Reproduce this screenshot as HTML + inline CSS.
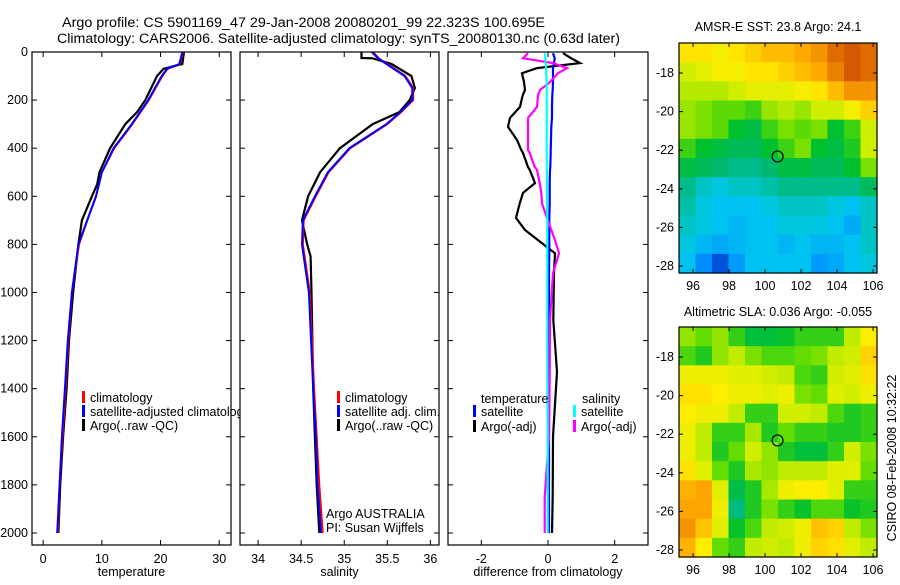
<!DOCTYPE html>
<html><head><meta charset="utf-8"><style>
html,body{margin:0;padding:0;background:#fff}
svg text{font-family:"Liberation Sans",sans-serif;fill:#000}
</style></head><body>
<svg id="fig" width="900" height="580" viewBox="0 0 900 580" xmlns="http://www.w3.org/2000/svg">
<rect width="900" height="580" fill="#fff"/>
<text x="62" y="27" font-size="14.2" textLength="483" lengthAdjust="spacingAndGlyphs">Argo profile: CS 5901169_47 29-Jan-2008 20080201_99 22.323S 100.695E</text>
<text x="57" y="43" font-size="14.2" textLength="563" lengthAdjust="spacingAndGlyphs">Climatology: CARS2006. Satellite-adjusted climatology: synTS_20080130.nc (0.63d later)</text>
<text x="778" y="31" font-size="12.5" text-anchor="middle">AMSR-E SST: 23.8 Argo: 24.1</text>
<text x="778" y="316" font-size="12.5" text-anchor="middle">Altimetric SLA: 0.036 Argo: -0.055</text>
<text transform="translate(896,458) rotate(-90)" font-size="12.5" text-anchor="middle">CSIRO 08-Feb-2008 10:32:22</text>
<g id="plots"></g>
</svg>
<script>
// ---- profile data (depth in dbar) ----
const tDepth = [0,50,70,100,200,250,300,400,500,550,600,700,800,1000,1200,1400,1600,1800,2000];
const tArgo  = [24.0,23.7,20.5,19.4,17.4,16.0,14.0,11.4,9.6,9.2,8.3,6.6,6.0,5.1,4.4,4.0,3.4,2.9,2.6];
const tClim  = [23.8,23.3,21.2,20.3,18.0,16.6,15.2,12.1,10.0,9.5,9.0,7.5,6.1,4.9,4.3,3.8,3.3,2.8,2.5];
const tSat   = [23.7,23.2,21.1,20.2,17.9,16.5,15.1,12.0,10.0,9.5,9.0,7.5,6.0,4.9,4.2,3.7,3.2,2.8,2.4];
const sDepth = [0,25,26,50,100,150,200,250,300,400,500,600,700,800,850,1000,1400,1600,1800,2000];
const sArgo  = [35.20,35.20,35.33,35.55,35.78,35.82,35.76,35.64,35.33,34.95,34.72,34.58,34.51,34.57,34.61,34.62,34.64,34.66,34.68,34.71];
const sClim  = [35.33,35.40,35.40,35.50,35.71,35.80,35.80,35.66,35.50,35.07,34.82,34.67,34.53,34.52,34.54,34.60,34.65,34.68,34.71,34.75];
const sSat   = [35.32,35.39,35.39,35.49,35.70,35.79,35.79,35.65,35.49,35.06,34.81,34.66,34.52,34.51,34.53,34.59,34.64,34.67,34.69,34.73];
const dDepth = [5,26,46,67,88,125,158,180,228,274,311,366,408,420,478,490,545,586,630,690,740,782,837,920,1115,1330,1600,1850,2000];
const dTArgo = [0.45,0.7,0.96,-0.33,-0.78,-0.72,-0.69,-0.76,-0.84,-1.14,-1.2,-0.93,-0.8,-0.75,-0.6,-0.55,-0.39,-0.75,-0.85,-0.96,-0.69,-0.3,0.21,0.18,0.16,0.27,0.15,0.14,0.12];
const dSArgo = [-0.6,-0.75,0.15,0.57,0.3,0.06,-0.24,-0.3,-0.33,-0.6,-0.6,-0.6,-0.6,-0.55,-0.4,-0.33,-0.25,-0.2,-0.18,-0.03,0.1,0.21,0.33,0.15,0.06,0.05,0.03,-0.1,-0.1];
const dTSat  = [0.15,0.2,0.18,0.15,0.15,0.15,0.14,0.13,0.12,0.12,0.1,0.09,0.08,0.08,0.07,0.06,0.05,0.05,0.05,0.04,0.04,0.04,0.04,0.03,0.03,0.03,0.03,0.03,0.03];
const dSSat  = [-0.09,-0.08,-0.07,-0.06,-0.05,-0.04,-0.04,-0.04,-0.04,-0.04,-0.04,-0.04,-0.04,-0.04,-0.03,-0.03,-0.03,-0.03,-0.03,-0.02,-0.02,-0.02,-0.02,-0.02,-0.02,-0.02,-0.01,-0.01,-0.01];
const depthTicks = [0,200,400,600,800,1000,1200,1400,1600,1800,2000];
const tTicks = [0,10,20,30];
const sTicks = [34,34.5,35,35.5,36];
const sTickLabels = ["34","34.5","35","35.5","36"];
const dTicks = [-2,0,2];
// ---- map data ----
const lonTicks = [96,98,100,102,104,106];
const latTicks = [-18,-20,-22,-24,-26,-28];
const sstGrid = [
[24.6,24.6,24.5,24.6,24.7,24.8,24.8,24.9,25.0,25.2,25.3,25.2],
[24.3,24.4,24.5,24.5,24.6,24.6,24.7,24.8,24.9,25.1,25.3,25.2],
[24.2,24.2,24.2,24.3,24.4,24.4,24.4,24.5,24.6,24.8,25.0,25.0],
[24.1,24.0,23.9,23.9,23.8,24.1,24.2,24.1,24.3,24.3,24.5,24.7],
[24.1,24.0,23.9,23.6,23.5,23.8,24.0,23.9,24.0,23.6,23.8,24.3],
[23.8,23.6,23.5,23.4,23.4,23.6,23.8,24.0,23.6,23.5,23.7,24.3],
[23.5,23.4,23.3,23.2,23.2,23.3,23.5,23.5,23.4,23.4,23.6,24.0],
[23.2,23.0,22.9,23.0,23.0,23.1,23.2,23.2,23.2,23.2,23.2,23.4],
[23.1,22.9,22.8,22.8,22.8,22.9,23.0,23.0,23.0,22.9,22.8,23.0],
[23.0,22.9,22.8,22.7,22.8,22.8,22.9,22.9,22.9,22.8,22.6,23.0],
[22.9,22.7,22.6,22.7,22.8,22.8,22.7,22.8,22.7,22.7,22.8,23.0],
[22.8,22.4,22.1,22.5,22.8,22.8,22.8,22.8,22.5,22.6,22.8,22.9]];
const slaGrid = [
[-0.02,-0.04,-0.02,-0.06,-0.09,-0.09,-0.08,-0.06,-0.06,-0.06,0.0,0.04],
[-0.05,-0.07,-0.02,0.0,-0.03,-0.05,-0.05,-0.04,-0.03,0.0,0.01,0.06],
[0.03,0.03,0.03,0.02,0.02,0.01,0.0,-0.05,-0.06,0.01,0.02,0.05],
[0.05,0.05,0.04,0.03,0.03,0.02,0.03,-0.03,-0.04,0.02,0.01,0.03],
[0.04,0.03,0.03,0.0,-0.06,-0.06,0.01,0.01,0.0,-0.05,-0.07,-0.06],
[0.03,0.0,-0.06,-0.06,-0.01,-0.07,-0.04,-0.06,-0.06,-0.07,-0.07,-0.06],
[0.03,0.0,-0.07,-0.04,0.01,-0.02,-0.07,-0.09,-0.09,-0.06,0.01,-0.03],
[0.05,0.02,-0.04,-0.07,-0.01,-0.02,0.0,0.0,0.0,0.02,0.02,-0.04],
[0.08,0.09,0.02,-0.1,-0.07,-0.01,0.03,0.04,0.04,0.02,-0.06,-0.06],
[0.09,0.09,0.03,-0.13,-0.07,-0.03,-0.06,-0.08,-0.05,-0.05,-0.08,-0.07],
[0.1,0.07,0.02,-0.08,-0.05,0.0,0.01,0.03,0.07,0.06,0.0,-0.03],
[0.08,0.04,-0.04,-0.06,0.0,0.01,0.0,0.03,0.06,0.05,0.02,0.0]];
const argoLon = 100.695, argoLat = -22.323;

const NS='http://www.w3.org/2000/svg';
const root=document.getElementById('plots');
function mk(tag,attrs,parent){const e=document.createElementNS(NS,tag);for(const k in attrs)e.setAttribute(k,attrs[k]);(parent||root).appendChild(e);return e;}
function txt(s,x,y,size,anchor,parent){const t=mk('text',{x:x,y:y,'font-size':size,'text-anchor':anchor||'start'},parent);t.textContent=s;return t;}
function lin(d0,d1,r0,r1){return v=>r0+(v-d0)/(d1-d0)*(r1-r0);}

const Y=lin(0,2050,52,545);
const panels=[
 {x0:32,x1:231,dom:[-1.9,32],ticks:tTicks,labels:tTicks.map(String),label:'temperature',name:'temperature'},
 {x0:240,x1:439,dom:[33.79,36.1],ticks:sTicks,labels:sTickLabels,label:'salinity',name:'salinity'},
 {x0:448,x1:648,dom:[-3,3],ticks:dTicks,labels:dTicks.map(String),label:'difference from climatology',name:'difference'}];
panels.forEach((p,i)=>{
  p.X=lin(p.dom[0],p.dom[1],p.x0,p.x1);
  const g=mk('g',{});
  
  
  p.g=g;
  mk('rect',{x:p.x0,y:52,width:p.x1-p.x0,height:493,fill:'#fff',stroke:'none'},g);
});
function line(p,xs,ds,color,w,name){
  const pts=xs.map((v,i)=>p.X(v).toFixed(1)+','+Y(ds[i]).toFixed(1)).join(' ');
  const l=mk('polyline',{points:pts,fill:'none',stroke:color,'stroke-width':w,'stroke-linejoin':'miter'},p.g);
  
  
}
const P1=panels[0],P2=panels[1],P3=panels[2];
line(P1,tArgo,tDepth,'#000',2.2,'temp-argo-line');
line(P1,tClim,tDepth,'#f00',2,'temp-clim-line');
line(P1,tSat,tDepth,'#00f',2,'temp-sat-line');
line(P2,sArgo,sDepth,'#000',2.2,'sal-argo-line');
line(P2,sClim,sDepth,'#f00',2,'sal-clim-line');
line(P2,sSat,sDepth,'#00f',2,'sal-sat-line');
line(P3,dTArgo,dDepth,'#000',2.2,'diff-temp-argo-line');
line(P3,dTSat,dDepth,'#00f',2.2,'diff-temp-sat-line');
line(P3,dSArgo,dDepth,'#f0f',2.2,'diff-sal-argo-line');
line(P3,dSSat,dDepth,'#0ff',2.2,'diff-sal-sat-line');

function legend(g,x,y,color,label,name){
  mk('rect',{x:x,y:y-11,width:3,height:12,fill:color},g);
  const t=txt(label,x+8,y,12.5,'start',g);
  
  
}
legend(P1.g,82,402,'#f00','climatology','legend-climatology');
legend(P1.g,82,416,'#00f','satellite-adjusted climatology','legend-sat-adj');
legend(P1.g,82,430,'#000','Argo(..raw -QC)','legend-argo');
root.appendChild(P2.g);root.appendChild(P3.g);
legend(P2.g,337,402,'#f00','climatology','legend2-climatology');
legend(P2.g,337,416,'#00f','satellite adj. clim.','legend2-sat-adj');
legend(P2.g,337,430,'#000','Argo(..raw -QC)','legend2-argo');
txt('Argo AUSTRALIA',326,518,12.5,'start',P2.g);
txt('PI: Susan Wijffels',326,532,12.5,'start',P2.g);
txt('temperature',481,403,12.5,'start',P3.g);
legend(P3.g,473,416,'#00f','satellite','legend3-temp-sat');
legend(P3.g,473,431,'#000','Argo(-adj)','legend3-temp-argo');
txt('salinity',582,403,12.5,'start',P3.g);
legend(P3.g,573,416,'#0ff','satellite','legend3-sal-sat');
legend(P3.g,573,431,'#f0f','Argo(-adj)','legend3-sal-argo');

panels.forEach((p,i)=>{
  const g=p.g;
  mk('rect',{x:p.x0,y:52,width:p.x1-p.x0,height:493,fill:'none',stroke:'#000','stroke-width':1.2},g);
  p.ticks.forEach((v,k)=>{
    const x=p.X(v);
    mk('line',{x1:x,y1:545,x2:x,y2:540,stroke:'#000'},g);
    mk('line',{x1:x,y1:52,x2:x,y2:57,stroke:'#000'},g);
    txt(p.labels[k],x,563,12.5,'middle',g);
  });
  const xl=txt(p.label,(p.x0+p.x1)/2,576,12.5,'middle',g);
  
  
  depthTicks.forEach(d=>{
    mk('line',{x1:p.x0,y1:Y(d),x2:p.x0+5,y2:Y(d),stroke:'#000'},g);
    mk('line',{x1:p.x1,y1:Y(d),x2:p.x1-5,y2:Y(d),stroke:'#000'},g);
    if(i===0) txt(String(d),28,Y(d)+4,12.5,'end',g);
  });
});

// ---- maps ----
const stops=[[0,'#0040d0'],[0.12,'#0090ff'],[0.25,'#00c8ee'],[0.38,'#00b870'],[0.47,'#00c030'],[0.57,'#66dd00'],[0.67,'#ccee00'],[0.75,'#ffee00'],[0.85,'#ffaa00'],[1,'#cc4400']];
function hex(c){return [1,3,5].map(i=>parseInt(c.substr(i,2),16));}
function cmap(t){t=Math.max(0,Math.min(1,t));for(let i=1;i<stops.length;i++){if(t<=stops[i][0]){const a=stops[i-1],b=stops[i];const f=(t-a[0])/(b[0]-a[0]);const ca=hex(a[1]),cb=hex(b[1]);return 'rgb('+ca.map((v,j)=>Math.round(v+(cb[j]-v)*f)).join(',')+')';}}return stops[stops.length-1][1];}
function drawMap(grid,dom,y0,y1,name){
  const g=mk('g',{});
  
  
  const x0=679,x1=877;
  const LX=lin(95.22,106.22,x0,x1);
  const LY=lin(-18,-28,y0+30,y0+223);
  const latTop=-18+(30/193)*10, latBot=-18-((y1-y0-30)/193)*10;
  const nr=grid.length,nc=grid[0].length;
  const dlon=(106.22-95.22)/nc, dlat=(latTop-latBot)/nr;
  grid.forEach((row,r)=>row.forEach((v,c)=>{
    const xa=LX(95.22+c*dlon),xb=LX(95.22+(c+1)*dlon);
    const ya=LY(latTop-r*dlat),yb=LY(latTop-(r+1)*dlat);
    const cell=mk('rect',{x:xa.toFixed(2),y:ya.toFixed(2),width:(xb-xa+0.6).toFixed(2),height:(yb-ya+0.6).toFixed(2),fill:cmap((v-dom[0])/(dom[1]-dom[0]))},g);
    
    
  }));
  mk('rect',{x:x0,y:y0,width:x1-x0,height:y1-y0,fill:'none',stroke:'#000','stroke-width':1.2},g);
  lonTicks.forEach(v=>{const x=LX(v);mk('line',{x1:x,y1:y1,x2:x,y2:y1-4,stroke:'#000'},g);mk('line',{x1:x,y1:y0,x2:x,y2:y0+4,stroke:'#000'},g);txt(String(v),x,y1+17,12.5,'middle',g);});
  latTicks.forEach(v=>{const y=LY(v);mk('line',{x1:x0,y1:y,x2:x0+4,y2:y,stroke:'#000'},g);mk('line',{x1:x1,y1:y,x2:x1-4,y2:y,stroke:'#000'},g);txt(String(v),674,y+4,12.5,'end',g);});
  const m=mk('circle',{cx:LX(argoLon),cy:LY(argoLat),r:5.5,fill:'none',stroke:'#000','stroke-width':1.2},g);
  
  
}
drawMap(sstGrid,[22.0,25.4],43,273,'sst-map');
drawMap(slaGrid,[-0.293,0.153],327,557,'sla-map');
</script>
</body></html>
